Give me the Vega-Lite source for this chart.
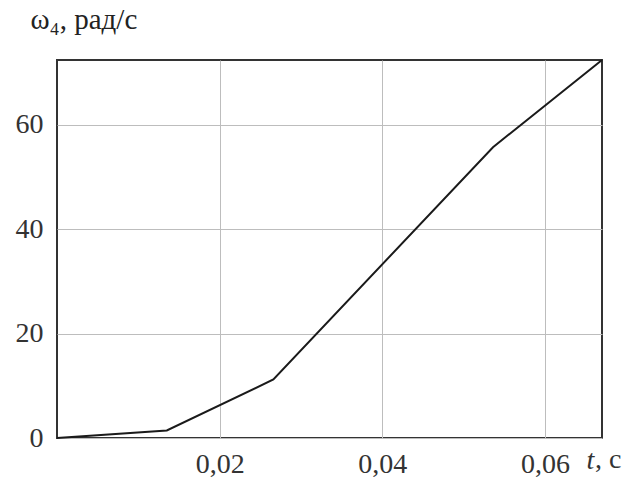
{
  "$schema": "https://vega.github.io/schema/vega-lite/v6.json",
  "width": 545,
  "height": 378,
  "autosize": {"type": "none"},
  "padding": {"left": 57, "top": 60, "right": 28, "bottom": 44},
  "background": "white",
  "config": {
    "view": {"stroke": "#333333", "strokeWidth": 2},
    "font": "Liberation Serif"
  },
  "layer": [
    {
      "data": {"values": [
        {"t": 0, "w": 0},
        {"t": 0.0135, "w": 1.45},
        {"t": 0.0266, "w": 11.2},
        {"t": 0.0536, "w": 55.7},
        {"t": 0.067, "w": 72.4}
      ]},
      "mark": {"type": "line", "color": "#1a1a1a", "strokeWidth": 2},
      "encoding": {
        "x": {
          "field": "t", "type": "quantitative",
          "scale": {"domain": [0, 0.067], "nice": false, "zero": false},
          "axis": {
            "values": [0.02, 0.04, 0.06],
            "labelExpr": "replace(format(datum.value, '.2f'), '.', ',')",
            "labelFont": "Liberation Serif", "labelFontSize": 28, "labelColor": "#333333",
            "labelPadding": 12, "ticks": false, "domain": false,
            "grid": true, "gridColor": "#bdbdbd", "gridWidth": 1,
            "title": "t", "titleFont": "Liberation Serif", "titleFontSize": 28,
            "titleFontStyle": "italic", "titleFontWeight": "normal", "titleColor": "#333333",
            "titleX": 529, "titleY": 30, "titleAlign": "left", "titleBaseline": "alphabetic"
          }
        },
        "y": {
          "field": "w", "type": "quantitative",
          "scale": {"domain": [0, 72.4], "nice": false},
          "axis": {
            "values": [0, 20, 40, 60],
            "labelFont": "Liberation Serif", "labelFontSize": 28, "labelColor": "#333333",
            "labelPadding": 14, "ticks": false, "domain": false,
            "grid": true, "gridColor": "#bdbdbd", "gridWidth": 1,
            "title": "ω₄, рад/с", "titleFont": "Liberation Serif", "titleFontSize": 29,
            "titleFontWeight": "normal", "titleColor": "#222222", "titleAngle": 0,
            "titleX": -27, "titleY": -32, "titleAlign": "left", "titleBaseline": "alphabetic"
          }
        }
      }
    },
    {
      "data": {"values": [{"label": ", c"}]},
      "mark": {"type": "text", "font": "Liberation Serif", "fontSize": 28, "fontWeight": "normal", "color": "#333333", "align": "left", "baseline": "alphabetic", "dx": -7, "dy": 30},
      "encoding": {
        "text": {"field": "label"},
        "x": {"datum": 0.067, "type": "quantitative"},
        "y": {"datum": 0, "type": "quantitative"}
      }
    }
  ]
}
